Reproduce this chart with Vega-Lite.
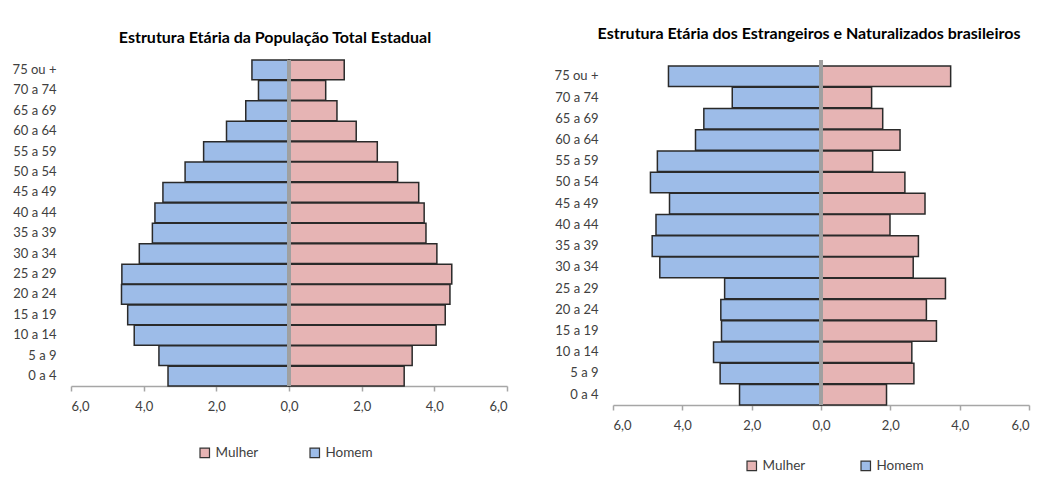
{
  "$schema": "https://vega.github.io/schema/vega-lite/v6.json",
  "padding": {"left": 12, "top": 25, "right": 5, "bottom": 5},
  "background": "white",
  "config": {
    "font": "Lato",
    "view": {"stroke": null}
  },
  "datasets": {
    "total": [
      {"faixa": "75 ou +", "sexo": "Homem", "valor": -1.02}, {"faixa": "75 ou +", "sexo": "Mulher", "valor": 1.52},
      {"faixa": "70 a 74", "sexo": "Homem", "valor": -0.84}, {"faixa": "70 a 74", "sexo": "Mulher", "valor": 1.01},
      {"faixa": "65 a 69", "sexo": "Homem", "valor": -1.19}, {"faixa": "65 a 69", "sexo": "Mulher", "valor": 1.32},
      {"faixa": "60 a 64", "sexo": "Homem", "valor": -1.72}, {"faixa": "60 a 64", "sexo": "Mulher", "valor": 1.85},
      {"faixa": "55 a 59", "sexo": "Homem", "valor": -2.35}, {"faixa": "55 a 59", "sexo": "Mulher", "valor": 2.43},
      {"faixa": "50 a 54", "sexo": "Homem", "valor": -2.86}, {"faixa": "50 a 54", "sexo": "Mulher", "valor": 2.99},
      {"faixa": "45 a 49", "sexo": "Homem", "valor": -3.47}, {"faixa": "45 a 49", "sexo": "Mulher", "valor": 3.57},
      {"faixa": "40 a 44", "sexo": "Homem", "valor": -3.69}, {"faixa": "40 a 44", "sexo": "Mulher", "valor": 3.72},
      {"faixa": "35 a 39", "sexo": "Homem", "valor": -3.76}, {"faixa": "35 a 39", "sexo": "Mulher", "valor": 3.77},
      {"faixa": "30 a 34", "sexo": "Homem", "valor": -4.12}, {"faixa": "30 a 34", "sexo": "Mulher", "valor": 4.07},
      {"faixa": "25 a 29", "sexo": "Homem", "valor": -4.60}, {"faixa": "25 a 29", "sexo": "Mulher", "valor": 4.48},
      {"faixa": "20 a 24", "sexo": "Homem", "valor": -4.61}, {"faixa": "20 a 24", "sexo": "Mulher", "valor": 4.43},
      {"faixa": "15 a 19", "sexo": "Homem", "valor": -4.44}, {"faixa": "15 a 19", "sexo": "Mulher", "valor": 4.30},
      {"faixa": "10 a 14", "sexo": "Homem", "valor": -4.26}, {"faixa": "10 a 14", "sexo": "Mulher", "valor": 4.05},
      {"faixa": "5 a 9", "sexo": "Homem", "valor": -3.58}, {"faixa": "5 a 9", "sexo": "Mulher", "valor": 3.39},
      {"faixa": "0 a 4", "sexo": "Homem", "valor": -3.33}, {"faixa": "0 a 4", "sexo": "Mulher", "valor": 3.17}
    ],
    "estrangeiros": [
      {"faixa": "75 ou +", "sexo": "Homem", "valor": -4.40}, {"faixa": "75 ou +", "sexo": "Mulher", "valor": 3.74},
      {"faixa": "70 a 74", "sexo": "Homem", "valor": -2.56}, {"faixa": "70 a 74", "sexo": "Mulher", "valor": 1.46},
      {"faixa": "65 a 69", "sexo": "Homem", "valor": -3.38}, {"faixa": "65 a 69", "sexo": "Mulher", "valor": 1.78},
      {"faixa": "60 a 64", "sexo": "Homem", "valor": -3.62}, {"faixa": "60 a 64", "sexo": "Mulher", "valor": 2.28},
      {"faixa": "55 a 59", "sexo": "Homem", "valor": -4.72}, {"faixa": "55 a 59", "sexo": "Mulher", "valor": 1.49},
      {"faixa": "50 a 54", "sexo": "Homem", "valor": -4.92}, {"faixa": "50 a 54", "sexo": "Mulher", "valor": 2.42},
      {"faixa": "45 a 49", "sexo": "Homem", "valor": -4.37}, {"faixa": "45 a 49", "sexo": "Mulher", "valor": 3.00},
      {"faixa": "40 a 44", "sexo": "Homem", "valor": -4.76}, {"faixa": "40 a 44", "sexo": "Mulher", "valor": 1.99},
      {"faixa": "35 a 39", "sexo": "Homem", "valor": -4.87}, {"faixa": "35 a 39", "sexo": "Mulher", "valor": 2.81},
      {"faixa": "30 a 34", "sexo": "Homem", "valor": -4.65}, {"faixa": "30 a 34", "sexo": "Mulher", "valor": 2.66},
      {"faixa": "25 a 29", "sexo": "Homem", "valor": -2.78}, {"faixa": "25 a 29", "sexo": "Mulher", "valor": 3.59},
      {"faixa": "20 a 24", "sexo": "Homem", "valor": -2.89}, {"faixa": "20 a 24", "sexo": "Mulher", "valor": 3.04},
      {"faixa": "15 a 19", "sexo": "Homem", "valor": -2.87}, {"faixa": "15 a 19", "sexo": "Mulher", "valor": 3.33},
      {"faixa": "10 a 14", "sexo": "Homem", "valor": -3.10}, {"faixa": "10 a 14", "sexo": "Mulher", "valor": 2.62},
      {"faixa": "5 a 9", "sexo": "Homem", "valor": -2.91}, {"faixa": "5 a 9", "sexo": "Mulher", "valor": 2.68},
      {"faixa": "0 a 4", "sexo": "Homem", "valor": -2.35}, {"faixa": "0 a 4", "sexo": "Mulher", "valor": 1.89}
    ]
  },
  "spacing": 46,
  "resolve": {"scale": {"color": "independent"}, "legend": {"color": "independent"}},
  "hconcat": [
    {
      "data": {"name": "total"},
      "width": 436,
      "height": 326,
      "title": {"text": "Estrutura Etária da População Total Estadual", "fontSize": 16, "fontWeight": "bold", "color": "#000000", "font": "Lato", "offset": 13, "dx": -14, "anchor": "middle"},
      "layer": [
        {
          "mark": {"type": "bar", "stroke": "#2a2a2a", "strokeWidth": 1.5},
          "encoding": {
            "y": {"field": "faixa", "type": "nominal",
              "sort": ["75 ou +", "70 a 74", "65 a 69", "60 a 64", "55 a 59", "50 a 54", "45 a 49", "40 a 44", "35 a 39", "30 a 34", "25 a 29", "20 a 24", "15 a 19", "10 a 14", "5 a 9", "0 a 4"],
              "scale": {"paddingInner": 0.03, "paddingOuter": 0},
              "axis": {"title": null, "domain": false, "ticks": false, "labelPadding": 15, "labelFontSize": 13, "labelColor": "#404040", "labelFont": "Lato"}},
            "x": {"field": "valor", "type": "quantitative",
              "scale": {"domain": [-6, 6], "nice": false},
              "axis": {"title": null, "values": [-6, -4, -2, 0, 2, 4, 6], "grid": false,
                "labelExpr": "replace(format(abs(datum.value), '.1f'), '.', ',')",
                "domainColor": "#A6A6A6", "domainWidth": 1.5, "tickColor": "#A6A6A6", "tickWidth": 1.5, "tickSize": 5,
                "labelPadding": 9, "labelFontSize": 13, "labelColor": "#404040", "labelFont": "Lato"}},
            "color": {"field": "sexo", "type": "nominal",
              "scale": {"domain": ["Mulher", "Homem"], "range": ["#E6B4B4", "#9DBCE8"]},
              "legend": {"orient": "none", "legendX": 127, "legendY": 386, "direction": "horizontal", "title": null, "symbolType": "square", "symbolSize": 90,
                "symbolStrokeColor": "#333333", "symbolStrokeWidth": 1.2, "symbolOpacity": 1, "labelFontSize": 13.5, "labelColor": "#404040",
                "labelFont": "Lato", "columnPadding": 48}}
          }
        },
        {
          "mark": {"type": "rule", "color": "#A0A0A0", "strokeWidth": 2.5},
          "encoding": {"x": {"datum": 0}}
        }
      ]
    },
    {
      "data": {"name": "estrangeiros"},
      "width": 416,
      "height": 345,
      "title": {"text": "Estrutura Etária dos Estrangeiros e Naturalizados brasileiros", "fontSize": 16, "fontWeight": "bold", "color": "#000000", "font": "Lato", "offset": 17, "dx": -12, "anchor": "middle"},
      "layer": [
        {
          "mark": {"type": "bar", "stroke": "#2a2a2a", "strokeWidth": 1.5},
          "encoding": {
            "y": {"field": "faixa", "type": "nominal",
              "sort": ["75 ou +", "70 a 74", "65 a 69", "60 a 64", "55 a 59", "50 a 54", "45 a 49", "40 a 44", "35 a 39", "30 a 34", "25 a 29", "20 a 24", "15 a 19", "10 a 14", "5 a 9", "0 a 4"],
              "scale": {"paddingInner": 0.03, "paddingOuter": 0.141, "align": 1},
              "axis": {"title": null, "domain": false, "ticks": false, "labelPadding": 15, "labelFontSize": 13, "labelColor": "#404040", "labelFont": "Lato"}},
            "x": {"field": "valor", "type": "quantitative",
              "scale": {"domain": [-6, 6], "nice": false},
              "axis": {"title": null, "values": [-6, -4, -2, 0, 2, 4, 6], "grid": false,
                "labelExpr": "replace(format(abs(datum.value), '.1f'), '.', ',')",
                "domainColor": "#A6A6A6", "domainWidth": 1.5, "tickColor": "#A6A6A6", "tickWidth": 1.5, "tickSize": 5,
                "labelPadding": 9, "labelFontSize": 13, "labelColor": "#404040", "labelFont": "Lato"}},
            "color": {"field": "sexo", "type": "nominal",
              "scale": {"domain": ["Mulher", "Homem"], "range": ["#E6B4B4", "#9DBCE8"]},
              "legend": {"orient": "none", "legendX": 132, "legendY": 399, "direction": "horizontal", "title": null, "symbolType": "square", "symbolSize": 90,
                "symbolStrokeColor": "#333333", "symbolStrokeWidth": 1.2, "symbolOpacity": 1, "labelFontSize": 13.5, "labelColor": "#404040",
                "labelFont": "Lato", "columnPadding": 52}}
          }
        },
        {
          "mark": {"type": "rule", "color": "#A0A0A0", "strokeWidth": 2.5},
          "encoding": {"x": {"datum": 0}}
        }
      ]
    }
  ]
}
